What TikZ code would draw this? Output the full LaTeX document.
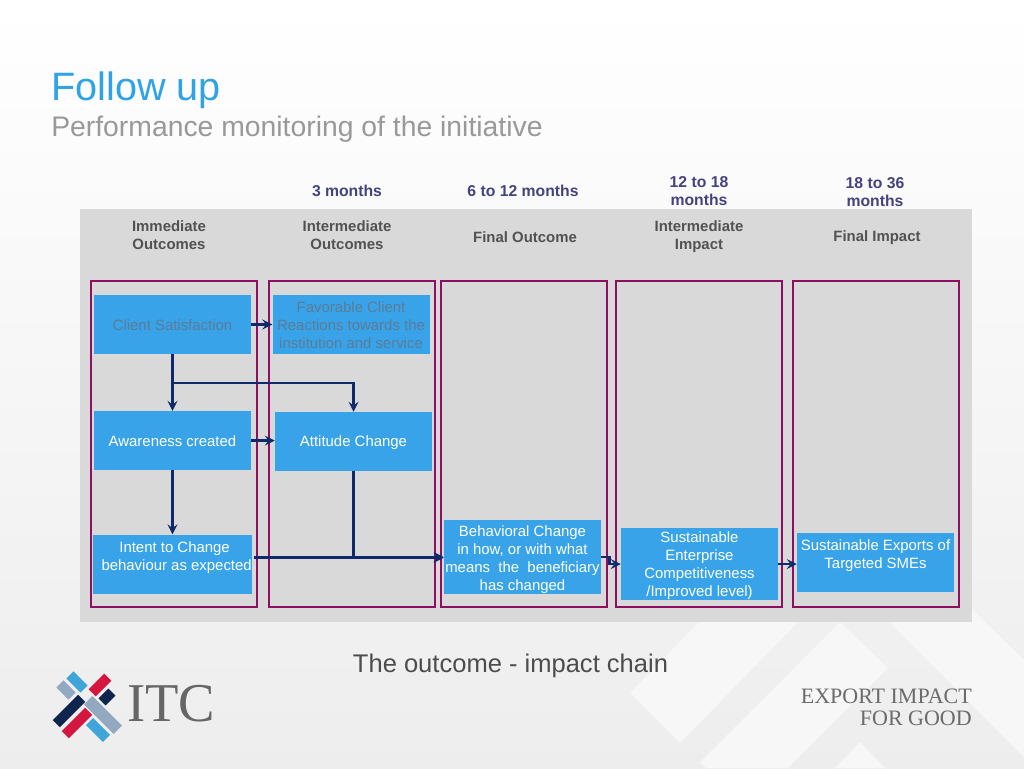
\documentclass[tikz,border=0pt]{standalone}
\usepackage{fontspec}
\setmainfont{Liberation Sans}
\newfontfamily\logofont{Liberation Serif}
\usetikzlibrary{positioning, arrows}
\definecolor{panelgray}{HTML}{D9D9D9}
\definecolor{boxblue}{HTML}{38A3E8}
\definecolor{framepurple}{HTML}{8E0F62}
\definecolor{arrownavy}{HTML}{0E2A6A}
\definecolor{titleblue}{HTML}{2FA3E6}
\definecolor{dimtext}{HTML}{5B7C96}
\definecolor{periodtext}{HTML}{45437F}
\definecolor{logored}{HTML}{D5173F}
\definecolor{logonavy}{HTML}{10254D}
\definecolor{logosteel}{HTML}{93A9C2}
\definecolor{logoblue}{HTML}{3FA5D8}
\definecolor{backdiamond}{HTML}{F7F7F7}
\def\px{0.75pt}
\newcommand{\toppad}[1]{\rule{0pt}{#1}} % pushes a box text down a little
\tikzset{
    >=stealth, % arrow heads
    x=\px, y=-\px, % picture is laid out in reference pixels
    every node/.style={inner sep=0pt, align=center},
    stepbox/.style={fill=boxblue, minimum width=157*\px, minimum height=59*\px, text=white, font=\fontsize{11.2}{13.5}\selectfont},
    dimbox/.style={stepbox, text=dimtext},
    column/.style={draw=framepurple, line width=1.5pt, minimum width=166*\px, minimum height=326*\px},
    period/.style={text=periodtext, font=\bfseries\fontsize{11.8}{13.5}\selectfont},
    level/.style={text=black!68, font=\bfseries\fontsize{11.2}{13.5}\selectfont},
    flow/.style={->, draw=arrownavy, line width=2.2pt},
    logobar/.style={minimum height=10*\px},
}
\begin{document}
\begin{tikzpicture}
\useasboundingbox (0,0) rectangle (1024,768);
% backdrop
\shade[top color=white, middle color=white!96.5!black, bottom color=white!93!black] (0,0) rectangle (1024,768);
\fill[backdiamond] (630,693) -- (680,743) -- (800,620) -- (750,570) -- cycle;
\fill[backdiamond] (700,762) -- (840,622) -- (888,668) -- (788,768) -- (706,768) -- cycle;
\fill[backdiamond] (890,623) -- (973,610) -- (1024,660) -- (1024,757) -- cycle;
\fill[backdiamond] (860,742) -- (885,768) -- (835,768) -- cycle;

\node[anchor=west, text=titleblue, font=\fontsize{29.7}{30}\selectfont] (title) at (51,90) {Follow up};
\node[anchor=west, text=black!40, font=\fontsize{21.25}{20}\selectfont] (subtitle) at (51,129) {Performance monitoring of the initiative};

\node[fill=panelgray, minimum width=892*\px, minimum height=413*\px] (panel) at (526,415.5) {};

\node[period] (p1) at (347,191) {3 months};
\node[period] (p2) at (523,191) {6 to 12 months};
\node[period] (p3) at (699,191.2) {12 to 18\\months};
\node[period] (p4) at (875,192.2) {18 to 36\\months};

\node[level] (l0) at (169,235) {Immediate\\Outcomes};
\node[level] (l1) at (347,235) {Intermediate\\Outcomes};
\node[level] (l2) at (525,237) {Final Outcome};
\node[level] (l3) at (699,237) {Intermediate\\Impact};
\node[level] (l4) at (877,238) {Final Impact};

\node[column] (c0) at (174,444) {};
\node[column] (c1) at (352,444) {};
\node[column] (c2) at (523.5,444) {};
\node[column] (c3) at (698.5,444) {};
\node[column] (c4) at (876,444) {};

\node[dimbox]                            (client)   at (172.5,324.5) {\toppad{9.5pt}Client Satisfaction};
\node[dimbox, right=21*\px of client]    (favor)    {\toppad{9.5pt}Favorable Client\\Reactions towards the\\institution and service};
\node[stepbox, below=56.5*\px of client] (aware)    {\toppad{9.5pt}Awareness created};
\node[stepbox, at={(353.5,441.5)}]       (attitude) {\toppad{9.5pt}Attitude Change};
\node[stepbox, below=64*\px of aware]    (intent)   {\toppad{9.5pt}\ Intent to Change\\\ \ behaviour as expected\\~};
\node[stepbox, minimum height=72*\px, at={(522.5,557)}] (behav) {\toppad{12.5pt}Behavioral Change\\in how, or with what\\means\ \ the\ \ beneficiary\\has changed};
\node[stepbox, minimum height=72*\px, at={(699.5,564)}] (sustain) {\toppad{11pt}Sustainable\\Enterprise\\Competitiveness\\/Improved level)};
\node[stepbox, at={(875.5,562.5)}]       (exports)  {\toppad{9.5pt}Sustainable Exports of\\Targeted SMEs\\~};

\coordinate (split) at (client.south |- 0,383);
\coordinate (intentout) at (254,557.8);

\draw[flow] (client.east) -- (favor.west);
\draw[flow] (aware.east) -- (aware.east -| attitude.west);
\draw[flow] (client.south) -- (aware.north);
\draw[flow] (split) -| (attitude.north);
\draw[flow] (aware.south) -- (intent.north);
\draw[flow] (intentout) -- (intentout -| behav.west);
\draw[flow] (attitude.south) |- (behav.west);
\draw[flow] (behav.east) -- ++(8,0) |- (sustain.west);
\draw[flow] (sustain.east) -- (sustain.east -| exports.west);

\node[text=black!70, font=\fontsize{19.15}{18}\selectfont] (chain) at (510.5,666) {The outcome - impact chain};

% logo
\node[logobar, rotate=-45, fill=logoblue, minimum width=20*\px] (b1) at (77,682) {};
\node[logobar, rotate=-45, fill=logosteel, minimum width=17*\px] (b2) at (66,690) {};
\node[logobar, rotate=45, fill=logored, minimum width=22*\px] (b3) at (100,685) {};
\node[logobar, rotate=45, fill=logonavy, minimum width=14*\px] (b4) at (107,697) {};
\node[logobar, rotate=45, fill=logonavy, minimum width=36*\px] (b5) at (69,711) {};
\node[logobar, rotate=45, fill=logored, minimum width=33*\px] (b6) at (77,723) {};
\node[logobar, rotate=-45, fill=logosteel, minimum width=42*\px, minimum height=12*\px] (b7) at (103,715) {};
\node[logobar, rotate=-45, fill=logoblue, minimum width=24*\px] (b8) at (98,730) {};
\node[anchor=west, text=black!60, font=\logofont\fontsize{41}{38}\selectfont] (itc) at (127,704) {ITC};

\node[anchor=east, text=black!58, font=\logofont\fontsize{16.5}{16}\selectfont] (slogan1) at (972,696) {EXPORT IMPACT};
\node[anchor=east, text=black!58, font=\logofont\fontsize{16.5}{16}\selectfont] (slogan2) at (972,718) {FOR GOOD};
\end{tikzpicture}
\end{document}
